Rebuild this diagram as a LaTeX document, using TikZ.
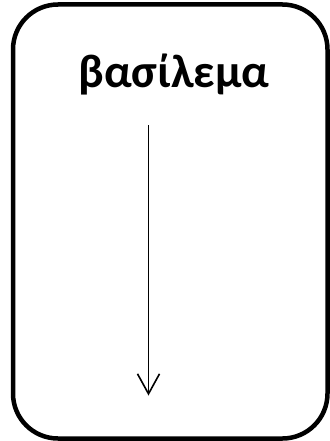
\documentclass[tikz,border=0pt]{standalone}
\usepackage{fontspec}
\setmainfont{Carlito}
\usetikzlibrary{arrows.meta}
\begin{document}
\begin{tikzpicture}[x=1pt,y=-1pt,
  frame/.style={draw=black,line width=4.5pt,rounded corners=45pt},
  title/.style={font=\bfseries\fontsize{47}{56}\selectfont,anchor=base,inner sep=0pt},
  flow/.style={line width=1.6pt,-{Straight Barb[length=20pt,width=22pt,line width=1.6pt]}}]
\useasboundingbox (0,0) rectangle (329,441);
\draw[frame] (13,4.5) rectangle (327.5,438.5);
\node[title] (t) at (174,88) {βασίλεμα};
\coordinate (a1) at (148.5,125);
\coordinate (a2) at (148.5,395.5);
\draw[flow] (a1) -- (a2);
\end{tikzpicture}
\end{document}
